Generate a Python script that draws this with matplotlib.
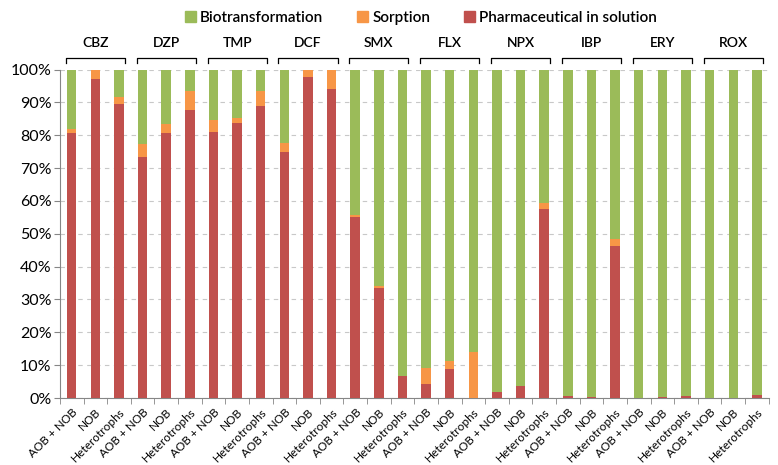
import matplotlib
matplotlib.use('Agg')
import matplotlib.pyplot as plt
import matplotlib.transforms as mtransforms
from matplotlib.patches import Patch
import numpy as np

plt.rcParams['font.family'] = ['Lato', 'DejaVu Sans']

groups = ['CBZ', 'DZP', 'TMP', 'DCF', 'SMX', 'FLX', 'NPX', 'IBP', 'ERY', 'ROX']
strains = ['AOB + NOB', 'NOB', 'Heterotrophs']

# percent of pharmaceutical in each fate, 3 bars per group
in_solution = [80.7, 97.0, 89.6,  73.3, 80.7, 87.8,  81.1, 83.7, 88.8,
               75.0, 97.6, 94.2,  55.1, 33.6, 6.6,   4.3, 8.9, 0.0,
               1.8, 3.6, 57.5,    0.6, 0.3, 46.2,    0.0, 0.3, 0.5,
               0.0, 0.0, 0.8]
sorption = [1.3, 3.0, 2.0,  4.1, 2.7, 5.7,  3.4, 1.4, 4.7,
            2.6, 2.4, 5.8,  0.6, 0.5, 0.0,  4.7, 2.3, 14.0,
            0.0, 0.0, 1.9,  0.0, 0.0, 2.3,  0.0, 0.0, 0.0,
            0.0, 0.0, 0.0]
biotransformation = [18.0, 0.0, 8.4,  22.6, 16.6, 6.5,  15.5, 14.9, 6.5,
                     22.4, 0.0, 0.0,  44.3, 65.9, 93.4, 91.0, 88.8, 86.0,
                     98.2, 96.4, 40.6, 99.4, 99.7, 51.5, 100.0, 99.7, 99.5,
                     100.0, 100.0, 99.2]

green = '#9BBB59'
orange = '#F79646'
red = '#C0504D'
grey = '#868686'

fig = plt.figure(figsize=(7.78, 4.65), dpi=100)
ax = fig.add_axes([0.077, 0.144, 0.911, 0.7065])

x = np.arange(len(in_solution))
red_arr = np.array(in_solution)
sorp_arr = np.array(sorption)
w = 0.4
ax.bar(x, red_arr, w, color=red, zorder=3)
ax.bar(x, sorp_arr, w, bottom=red_arr, color=orange, zorder=3)
ax.bar(x, biotransformation, w, bottom=red_arr + sorp_arr, color=green, zorder=3)

ax.set_xlim(-0.5, len(x) - 0.5)
ax.set_ylim(0, 100)
ax.set_yticks(np.arange(0, 101, 10))
ax.set_yticklabels(['{}%'.format(v) for v in range(0, 101, 10)], fontsize=11.5)
ax.yaxis.grid(True, linestyle=(0, (4, 4)), color='#C8C8C8', linewidth=0.8, zorder=0)

ax.set_xticks(x)
ax.set_xticklabels(strains * len(groups), fontsize=8.5, rotation=45,
                   ha='right', rotation_mode='anchor')
ax.set_xticks(np.arange(-0.5, len(x), 1), minor=True)
ax.tick_params(axis='x', which='major', length=0, pad=6)
ax.tick_params(axis='x', which='minor', length=4, color=grey)
ax.tick_params(axis='y', length=4, color=grey, pad=2)

for side in ['top', 'right']:
    ax.spines[side].set_visible(False)
for side in ['left', 'bottom']:
    ax.spines[side].set_color(grey)

# group brackets and names above the bars
trans = mtransforms.blended_transform_factory(ax.transData, ax.transAxes)
for i, g in enumerate(groups):
    x0 = 3 * i - w / 2 - 0.05
    x1 = 3 * i + 2 + w / 2 + 0.05
    ax.plot([x0, x0, x1, x1], [1.02, 1.035, 1.035, 1.02], color='black',
            linewidth=0.9, transform=trans, clip_on=False)
    ax.text(3 * i + 1, 1.081, g, transform=trans, ha='center', va='center',
            fontsize=10, fontweight='semibold')

handles = [Patch(color=green, label='Biotransformation'),
           Patch(color=orange, label='Sorption'),
           Patch(color=red, label='Pharmaceutical in solution')]
fig.legend(handles=handles, loc='center', bbox_to_anchor=(0.541, 0.961), ncol=3,
           frameon=False, prop={'size': 11, 'weight': 'semibold'},
           handlelength=0.7, handleheight=0.7, handletextpad=0.3, columnspacing=2.2)

plt.savefig('out.png', dpi=100)
plt.close()
